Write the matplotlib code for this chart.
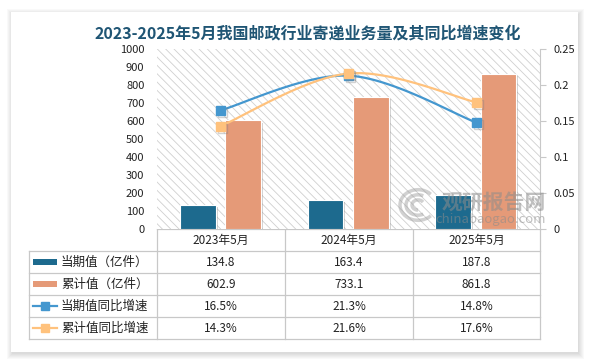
import numpy as np
import matplotlib.pyplot as plt
import matplotlib.patheffects as pe
from matplotlib.patches import Rectangle, Arc

plt.rcParams['font.family'] = ['Noto Sans CJK SC', 'DejaVu Sans']
plt.rcParams['hatch.linewidth'] = 0.6

CATEGORIES = ["2023年5月", "2024年5月", "2025年5月"]
CUR = [134.8, 163.4, 187.8]          # 当期值（亿件）
CUM = [602.9, 733.1, 861.8]          # 累计值（亿件）
CUR_YOY = [0.165, 0.213, 0.148]      # 当期值同比增速
CUM_YOY = [0.143, 0.216, 0.176]      # 累计值同比增速
SERIES = ["当期值（亿件）", "累计值（亿件）", "当期值同比增速", "累计值同比增速"]

C_CUR = "#1d6a8e"
C_CUM = "#e59a78"
C_CUR_L = "#4497cf"
C_CUM_L = "#ffc27d"
C_GRID = "#c8c8c8"
C_TEXT = "#222222"

W, H = 589, 362


def smooth(xs, ys, n=40):
    # catmull-rom, like Excel's smoothed line
    xs = np.asarray(xs, float)
    ys = np.asarray(ys, float)
    px = np.r_[xs[0], xs, xs[-1]]
    py = np.r_[ys[0], ys, ys[-1]]
    ox, oy = [], []
    for i in range(1, len(px) - 2):
        t = np.linspace(0, 1, n)
        for p, out in ((px, ox), (py, oy)):
            p0, p1, p2, p3 = p[i - 1], p[i], p[i + 1], p[i + 2]
            out.extend(0.5 * (2 * p1 + (-p0 + p2) * t
                              + (2 * p0 - 5 * p1 + 4 * p2 - p3) * t ** 2
                              + (-p0 + 3 * p1 - 3 * p2 + p3) * t ** 3))
    return ox, oy


shadow = [pe.SimplePatchShadow(offset=(1.5, -1.5), shadow_rgbFace="#808080", alpha=0.35),
          pe.Normal()]

fig = plt.figure(figsize=(W / 100, H / 100), dpi=100, facecolor="white")

# background card with soft shadow
bg = fig.add_axes([0, 0, 1, 1], zorder=0)
bg.set_xlim(0, W)
bg.set_ylim(H, 0)
bg.axis("off")
for k in range(6, 0, -1):
    bg.add_patch(Rectangle((11 - k + 2, 12 - k + 3), 567 + 2 * k - 2, 340 + 2 * k - 2,
                           facecolor="#000000", alpha=0.025, lw=0))
bg.add_patch(Rectangle((11, 12), 567, 340, facecolor="white", lw=0))

bg.text(308, 33, "2023-2025年5月我国邮政行业寄递业务量及其同比增速变化",
        ha="center", va="center", fontsize=11.5, fontweight="bold", color="#1f5574")

# main plot
ax = fig.add_axes([157 / W, 1 - 229 / H, 383 / W, 180 / H], zorder=2)
ax.patch.set_visible(False)
ax.add_patch(Rectangle((0, 0), 1, 1, transform=ax.transAxes, facecolor="white",
                       edgecolor="#cfcfcf", hatch="\\\\\\\\", lw=0, zorder=0))

x = np.arange(len(CATEGORIES))
b1 = ax.bar(x - 0.18, CUR, width=0.28, color=C_CUR, edgecolor="white", lw=0.8, zorder=2)
b2 = ax.bar(x + 0.175, CUM, width=0.28, color=C_CUM, edgecolor="white", lw=0.8, zorder=2)
for b in list(b1) + list(b2):
    b.set_path_effects(shadow)
ax.set_xlim(-0.5, len(CATEGORIES) - 0.5)
ax.set_ylim(0, 1000)
ax.set_yticks(range(0, 1001, 100))
ax.tick_params(axis="y", length=0, pad=9, labelsize=8, labelcolor=C_TEXT)
ax.set_xticks([])
for s in ax.spines.values():
    s.set_visible(False)

ax2 = ax.twinx()
ax2.set_ylim(0, 0.25)
ax2.set_yticks([0, 0.05, 0.1, 0.15, 0.2, 0.25])
ax2.set_yticklabels(["0", "0.05", "0.1", "0.15", "0.2", "0.25"])
ax2.tick_params(axis="y", length=4, color=C_GRID, pad=6, labelsize=8, labelcolor=C_TEXT)
for s in ax2.spines.values():
    s.set_visible(False)
ax2.spines["right"].set_visible(True)
ax2.spines["right"].set_color(C_GRID)
for vals, col in ((CUR_YOY, C_CUR_L), (CUM_YOY, C_CUM_L)):
    sx, sy = smooth(x, vals)
    ax2.plot(sx, sy, color=col, lw=1.6, zorder=3)
    ax2.plot(x, vals, ls="", marker="s", ms=6.5, color=col, zorder=4,
             path_effects=[pe.SimpleLineShadow(offset=(1.5, -1.5), shadow_color="#808080",
                                               alpha=0.35), pe.Normal()])

# data table below the plot
cols = [29, 157, 285, 413, 540]
rows = [229, 251, 273, 295, 317, 339]
bg.plot([157, 540], [229, 229], color=C_GRID, lw=0.9)
for yv in rows[1:]:
    bg.plot([29, 540], [yv, yv], color=C_GRID, lw=0.9)
for xv in cols[1:]:
    bg.plot([xv, xv], [229, 339], color=C_GRID, lw=0.9)
bg.plot([29, 29], [251, 339], color=C_GRID, lw=0.9)

for j, cat in enumerate(CATEGORIES):
    bg.text((cols[j + 1] + cols[j + 2]) / 2, 240, cat, ha="center", va="center",
            fontsize=8.5, color=C_TEXT)

table_vals = [
    [f"{v:.1f}" for v in CUR],
    [f"{v:.1f}" for v in CUM],
    [f"{v * 100:.1f}%" for v in CUR_YOY],
    [f"{v * 100:.1f}%" for v in CUM_YOY],
]
swatch = [C_CUR, C_CUM, C_CUR_L, C_CUM_L]
for i, name in enumerate(SERIES):
    yc = (rows[i + 1] + rows[i + 2]) / 2
    if i < 2:
        bg.add_patch(Rectangle((33, yc - 3), 24, 6, facecolor=swatch[i], lw=0))
    else:
        bg.plot([33, 57], [yc, yc], color=swatch[i], lw=1.6)
        bg.plot([45], [yc], marker="s", ms=5.5, color=swatch[i])
    bg.text(61, yc, name, ha="left", va="center", fontsize=9, color=C_TEXT)
    for j, v in enumerate(table_vals[i]):
        bg.text((cols[j + 1] + cols[j + 2]) / 2, yc, v, ha="center", va="center",
                fontsize=8.5, color=C_TEXT)

# watermark
wm = fig.add_axes([0, 0, 1, 1], zorder=5)
wm.set_xlim(0, W)
wm.set_ylim(H, 0)
wm.axis("off")
wm.text(494, 202, "观研报告网", ha="center", va="center", fontsize=15,
        fontweight="bold", color="#8c8c8c", alpha=0.55)
wm.text(491, 220, "chinabaogao.com", ha="center", va="center", fontsize=9.5,
        color="#8c8c8c", alpha=0.55)
for r, a1, a2 in ((18, 40, 320), (12, 60, 300), (6, 90, 330)):
    wm.add_patch(Arc((418, 205), 2 * r, 2 * r * 0.85, theta1=a1, theta2=a2,
                     color="#9a9a9a", lw=2.5, alpha=0.45))

fig.savefig("out.png", dpi=100, facecolor="white")
